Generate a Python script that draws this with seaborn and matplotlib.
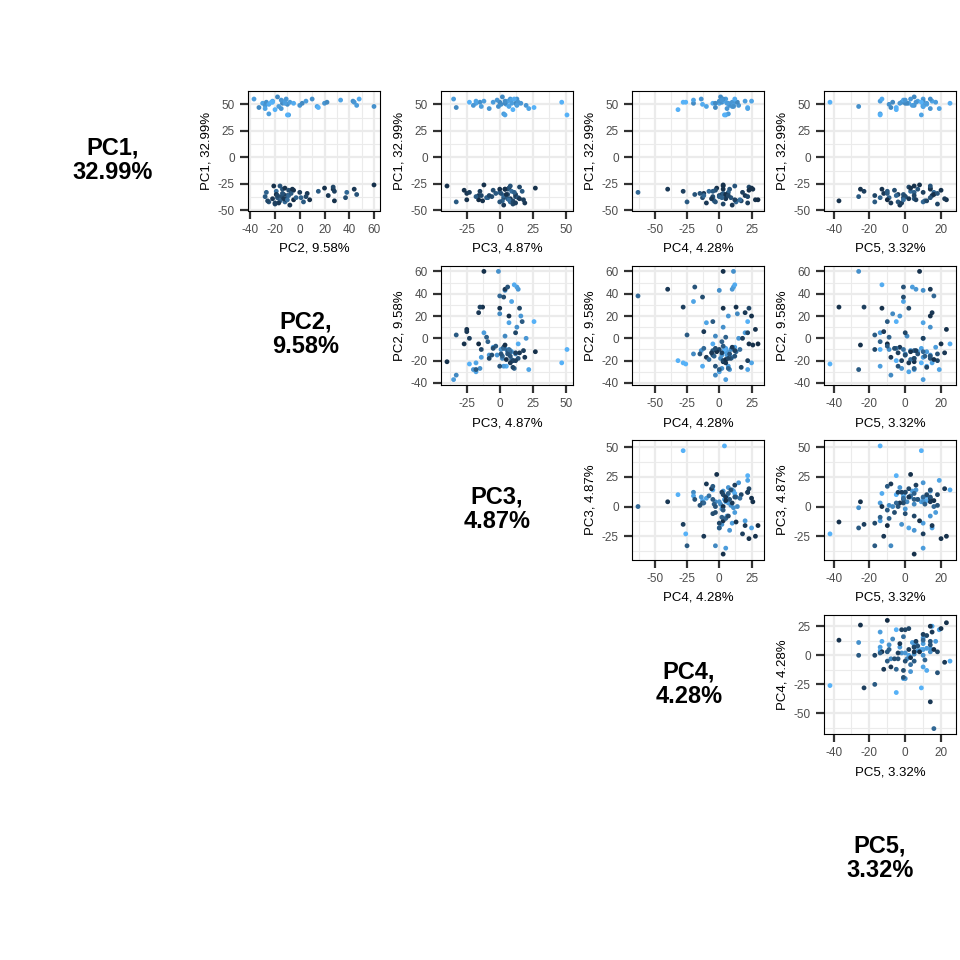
import numpy as np
import pandas as pd
import seaborn as sns
import matplotlib.pyplot as plt
from matplotlib.colors import LinearSegmentedColormap
from matplotlib.ticker import MultipleLocator, AutoMinorLocator

# principal component scores per sample (top cluster first, then bottom cluster)
pc1 = [55, 47, 51, 49, 52, 50, 41, 53, 45, 57, 48, 46, 51, 53, 55, 50, 40, 52, 51, 49,
       51, 53, 55, 48, 47, 51, 52, 54, 53, 52, 49, 55, 54, 51, 48, 46, 52, 40, 52,
       -27, -33, -30, -41, -26, -35, -38, -30, -32, -36, -28, -29, -40, -34, -37, -42,
       -38, -33, -31, -40, -45, -36, -39, -42, -35, -30, -37, -41, -43, -38, -32, -44,
       -40, -36, -34, -39, -42, -33, -37, -41, -29, -35, -39, -27, -31, -38, -43, -30,
       -34, -36, -40, -32]
pc2 = [-37, -33, -30, -28, -27, -25, -25, -22, -20, -18, -17, -15, -14, -12, -11, -10, -9, -8, -5, 0,
       2, 5, 10, 14, 15, 20, 22, 33, 43, 44, 46, 48, -15, -12, 60, -28, -22, -10, -23,
       -21, 38, 44, 28, 60, 46, 37, 27, 28, 23, 27, 20, 8, 6, 5, 3,
       1, 0, -5, -5, -8, -10, -11, -12, -13, -14, -15, -16, -17, -18, -19, -20,
       -11, -9, -7, -22, -25, -27, -28, -26, -12, -19, -13, -16, -9, -3, -20, -6,
       -14, -18, -10, 15]
pc3 = [-35, -33, -18, -20, -15, 5, 3, -18, 10, 2, -14, -8, 12, 6, 8, 1, 4, -5, 14, 20,
       4, -12, 13, 7, 26, 16, 0, 9, 4, 14, 13, 11, -2, 9, -1, 22, 47, 51, -23,
       -40, 0, 4, -13, -12, 6, 3, 0, -15, -16, 15, 7, -25, -25, 12, -33,
       -10, -23, -27, -16, 3, -14, 6, 8, 12, 6, -6, 2, 19, 14, 9, 10,
       18, 3, -3, 8, 0, 11, -18, 10, 27, 5, 15, 8, -5, -9, 12, 4,
       1, -8, 7, 17]
pc4 = [5, -3, 0, 8, 2, -13, 7, 25, -32, 1, 10, 6, -20, 4, -14, 9, 5, 12, -5, 15,
       -3, 20, 3, -10, 22, 7, 14, -20, 0, 10, 11, 12, 2, 6, 11, 22, -28, 4, -26,
       3, -63, -40, 13, 3, -19, -13, 3, -28, 20, 23, 25, 28, -12, 22, -25,
       5, 18, 23, 30, 10, 0, -5, 13, 2, 8, -5, -4, -10, 9, -8, 3,
       12, -12, 3, 5, -3, 7, 0, 17, -2, 5, -6, 12, -3, 2, 22, 26,
       -15, 7, 16, -5]
pc5 = [10, -8, 2, 5, -2, 12, -14, 15, -5, 5, 10, 14, 0, 7, 3, -9, 9, 17, 25, 10,
       1, -14, 14, 10, -5, -3, -7, -1, 10, 6, 4, -13, 0, 12, -26, 19, 9, -14, -42,
       5, 16, 14, -37, 8, -1, -1, -13, -23, 15, 2, 14, 23, -12, 0, -17,
       -9, 10, 20, -10, -3, -17, 5, 10, -4, 7, 0, 11, -8, 14, 3, 18,
       6, -5, -10, 2, -4, 5, -26, 12, 3, 16, 22, 14, -6, -14, -2, -25,
       18, 5, -1, -10]
shade = [0.85, 0.7, 0.9, 0.8, 0.75, 0.95, 0.85, 0.9, 1.0, 0.7, 0.85, 0.8, 0.7, 0.9, 0.8, 0.75, 0.9, 0.85, 0.95, 0.8,
         0.7, 0.85, 0.75, 0.9, 1.0, 0.8, 0.7, 0.9, 0.75, 0.8, 0.85, 0.95, 0.8, 0.85, 0.75, 0.9, 1.0, 1.0, 1.0,
         0.05, 0.45, 0.1, 0.05, 0.05, 0.3, 0.25, 0.05, 0.15, 0.1, 0.2, 0.05, 0.05, 0.1, 0.2, 0.35,
         0.4, 0.15, 0.05, 0.0, 0.1, 0.2, 0.35, 0.45, 0.15, 0.3, 0.25, 0.4, 0.1, 0.3, 0.5, 0.2,
         0.15, 0.45, 0.35, 0.1, 0.3, 0.4, 0.35, 0.2, 0.05, 0.05, 0.1, 0.3, 0.25, 0.4, 0.15, 0.05,
         0.3, 0.2, 0.5, 0.35]

pc_names = ['PC1', 'PC2', 'PC3', 'PC4', 'PC5']
pc_var = ['32.99%', '9.58%', '4.87%', '4.28%', '3.32%']
tick_step = [25, 20, 25, 25, 20]

df = pd.DataFrame({'PC1': pc1, 'PC2': pc2, 'PC3': pc3, 'PC4': pc4, 'PC5': pc5, 'shade': shade})

sns.set_theme(style='white')
plt.rcParams['font.family'] = ['Liberation Sans', 'DejaVu Sans']
plt.rcParams['axes.unicode_minus'] = False
plt.rcParams['text.color'] = 'black'
plt.rcParams['axes.labelcolor'] = 'black'

cmap = LinearSegmentedColormap.from_list('gg', ['#132B43', '#56B1F7'])

W = H = 960
fig = plt.figure(figsize=(9.6, 9.6), dpi=100)

col_left = [56, 248, 441, 632, 824]
row_top = [91.5, 266, 440.5, 615, 789.5]
pw, ph = 132, 119
label_pos = [(113, 160), (306, 334), (497, 509), (689, 684), (880, 858)]

for i in range(5):
    # diagonal: variable name and explained variance
    lx, ly = label_pos[i]
    fig.text(lx / W, 1 - ly / H, f'{pc_names[i]},\n{pc_var[i]}', ha='center', va='center',
             fontsize=17, fontweight='bold', linespacing=1.1, color='black')
    for j in range(i + 1, 5):
        ax = fig.add_axes([col_left[j] / W, 1 - (row_top[i] + ph) / H, pw / W, ph / H])
        sns.scatterplot(ax=ax, data=df, x=pc_names[j], y=pc_names[i], hue='shade',
                        palette=cmap, hue_norm=(0, 1), legend=False, s=12, linewidth=0)
        ax.xaxis.set_major_locator(MultipleLocator(tick_step[j]))
        ax.yaxis.set_major_locator(MultipleLocator(tick_step[i]))
        ax.xaxis.set_minor_locator(AutoMinorLocator(2))
        ax.yaxis.set_minor_locator(AutoMinorLocator(2))
        ax.margins(0.05)
        ax.grid(which='major', color='#EBEBEB', linewidth=1.6)
        ax.grid(which='minor', color='#EBEBEB', linewidth=0.8)
        ax.set_axisbelow(True)
        for sp in ax.spines.values():
            sp.set_color('black')
            sp.set_linewidth(0.8)
        ax.tick_params(which='major', length=5.5, width=1.6, color='#333333',
                       labelsize=8.5, labelcolor='#4D4D4D', pad=4,
                       bottom=True, left=True)
        ax.tick_params(which='minor', length=0)
        ax.set_xlabel(f'{pc_names[j]}, {pc_var[j]}', fontsize=9.5, color='black', labelpad=5)
        ax.set_ylabel(f'{pc_names[i]}, {pc_var[i]}', fontsize=9.5, color='black', labelpad=4)

fig.savefig('out.png', dpi=100, facecolor='white')
